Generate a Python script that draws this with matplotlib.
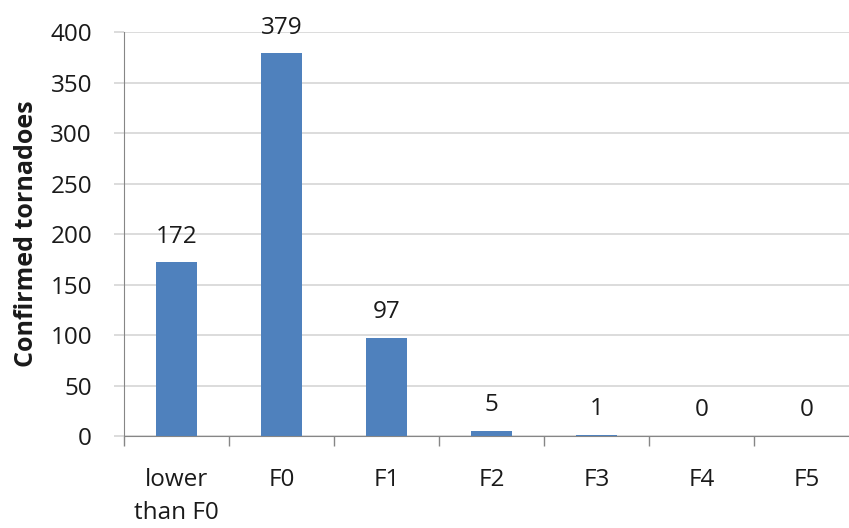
import matplotlib
matplotlib.use("Agg")
import matplotlib.pyplot as plt
import numpy as np

# chart data
categories = ["lower\nthan F0", "F0", "F1", "F2", "F3", "F4", "F5"]
counts = [172, 379, 97, 5, 1, 0, 0]
y_ticks = [0, 50, 100, 150, 200, 250, 300, 350, 400]

BAR_COLOR = "#4F81BD"
GRID_COLOR = "#D9D9D9"
AXIS_COLOR = "#868686"
TEXT_COLOR = "#1a1a1a"
FS = 17.5

plt.rcParams["font.family"] = ["Open Sans", "DejaVu Sans"]

fig = plt.figure(figsize=(8.49, 5.28), dpi=100)
ax = fig.add_axes([0.146, 0.174, 0.866, 0.765])

x = np.arange(len(categories))
ax.bar(x, counts, width=0.39, color=BAR_COLOR, zorder=3)

for xi, v in zip(x, counts):
    ax.annotate(str(v), (xi, v), xytext=(0, 18.5), textcoords="offset points",
                ha="center", va="center", fontsize=FS, color=TEXT_COLOR)

ax.set_xlim(-0.5, len(categories) - 0.5)
ax.set_ylim(0, 400)
ax.set_yticks(y_ticks)
ax.yaxis.grid(True, color=GRID_COLOR, linewidth=1.3, zorder=0)

ax.set_xticks(x)
ax.set_xticklabels(categories, fontsize=FS, linespacing=1.5, color=TEXT_COLOR)
ax.set_xticks(np.arange(len(categories) + 1) - 0.5, minor=True)
ax.tick_params(axis="x", which="major", length=0, pad=23)
ax.tick_params(axis="x", which="minor", length=7, color=AXIS_COLOR, width=1.0)
ax.tick_params(axis="y", length=7, color=GRID_COLOR, width=1.3, pad=16,
               labelsize=FS, labelcolor=TEXT_COLOR)

for side in ("top", "right"):
    ax.spines[side].set_visible(False)
ax.spines["left"].set_color(AXIS_COLOR)
ax.spines["bottom"].set_color(AXIS_COLOR)

ax.set_ylabel("Confirmed tornadoes", fontsize=18, fontweight="bold",
              color=TEXT_COLOR)
ax.yaxis.set_label_coords(-0.115, 0.5)

fig.savefig("out.png", dpi=100)
